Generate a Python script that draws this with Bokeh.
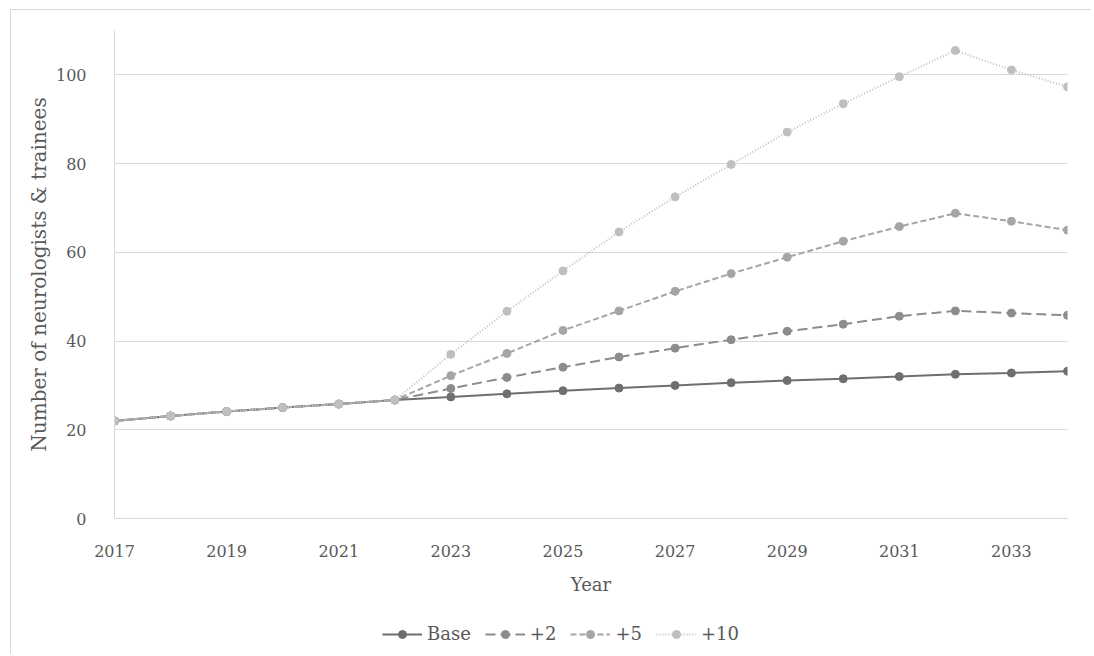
from bokeh.plotting import figure
from bokeh.layouts import column
from bokeh.models import FixedTicker, Legend, LegendItem, Range1d
from bokeh.embed import file_html
from bokeh.resources import INLINE

years = list(range(2017, 2035))
base = [22.0, 23.1, 24.1, 25.0, 25.8, 26.7, 27.4, 28.1, 28.8, 29.4, 30.0, 30.6, 31.1, 31.5, 32.0, 32.5, 32.8, 33.2]
plus2 = [22.0, 23.1, 24.1, 25.0, 25.8, 26.7, 29.3, 31.8, 34.1, 36.4, 38.4, 40.3, 42.2, 43.8, 45.6, 46.8, 46.3, 45.8]
plus5 = [22.0, 23.1, 24.1, 25.0, 25.8, 26.7, 32.2, 37.2, 42.4, 46.8, 51.2, 55.2, 58.9, 62.5, 65.8, 68.8, 67.0, 65.0]
plus10 = [22.0, 23.1, 24.1, 25.0, 25.8, 26.7, 37.0, 46.7, 55.8, 64.6, 72.5, 79.8, 87.1, 93.5, 99.6, 105.5, 101.1, 97.3]
names = ["Base", "+2", "+5", "+10"]
x_ticks = [2017, 2019, 2021, 2023, 2025, 2027, 2029, 2031, 2033]
y_ticks = [0, 20, 40, 60, 80, 100]

FONT = "DejaVu Serif"
TXT = "#595959"

p = figure(width=1080, height=590, output_backend="svg", toolbar_location=None,
           x_range=Range1d(2017, 2034), y_range=Range1d(0, 110),
           min_border_left=103, min_border_right=24, min_border_top=20, min_border_bottom=82)
p.outline_line_color = None
p.xgrid.grid_line_color = None
p.ygrid.grid_line_color = "#d9d9d9"
p.ygrid.grid_line_width = 1

p.xaxis.ticker = FixedTicker(ticks=x_ticks)
p.yaxis.ticker = FixedTicker(ticks=y_ticks)
for ax in (p.xaxis, p.yaxis):
    ax.axis_line_color = "#d9d9d9"
    ax.major_tick_line_color = None
    ax.minor_tick_line_color = None
    ax.major_label_text_font = FONT
    ax.major_label_text_font_size = "16px"
    ax.major_label_text_color = TXT
    ax.axis_label_text_font = FONT
    ax.axis_label_text_font_size = "18px"
    ax.axis_label_text_color = TXT
    ax.axis_label_text_font_style = "normal"
p.yaxis.axis_label_text_font_size = "20px"
p.xaxis.axis_label = "Year"
p.yaxis.axis_label = "Number of neurologists & trainees"
p.xaxis.major_label_standoff = 20
p.xaxis.axis_label_standoff = 14
p.yaxis.major_label_standoff = 22
p.yaxis.axis_label_standoff = 2

series = [base, plus2, plus5, plus10]
colors = ["#6f6f6f", "#8c8c8c", "#a5a5a5", "#bfbfbf"]
dashes = ["solid", "10 5", "6 3", "1 2"]
for ys, c, d in zip(series, colors, dashes):
    p.line(years, ys, line_color=c, line_width=2, line_dash=d)
    p.scatter(years, ys, size=8, fill_color=c, line_color=c, marker="circle")

# legend strip below the chart; its renderers fall outside its ranges, only legend samples show
lf = figure(width=1080, height=54, output_backend="svg", toolbar_location=None,
            x_range=Range1d(0, 1), y_range=Range1d(0, 1),
            min_border_left=0, min_border_right=0, min_border_top=0, min_border_bottom=0)
lf.axis.visible = False
lf.grid.visible = False
lf.outline_line_color = None
items = []
for name, ys, c, d in zip(names, series, colors, dashes):
    r1 = lf.line(years, ys, line_color=c, line_width=2, line_dash=d)
    r2 = lf.scatter(years, ys, size=8, fill_color=c, line_color=c, marker="circle")
    items.append(LegendItem(label=name, renderers=[r1, r2]))
legend = Legend(items=items, orientation="horizontal", location=(268, 10),
                label_text_font=FONT, label_text_font_size="18px", label_text_color=TXT,
                border_line_color=None, background_fill_alpha=0, glyph_width=40,
                spacing=14, label_standoff=5, margin=0, padding=4)
lf.add_layout(legend)

layout = column(p, lf, spacing=0,
                styles={"border-left": "1px solid #d9d9d9", "border-top": "1px solid #d9d9d9",
                        "margin-left": "10px", "margin-top": "9px"})

open("out.html", "w").write(file_html(layout, INLINE))
